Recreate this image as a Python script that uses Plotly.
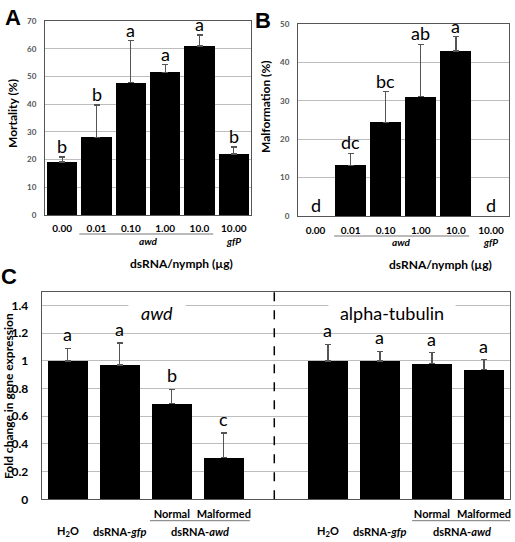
import plotly.graph_objects as go

W, H = 515, 542

# ---------------- data ----------------
a_labels = ["0.00", "0.01", "0.10", "1.00", "10.0", "10.00"]
a_mortality = [19.1, 28.0, 47.8, 51.5, 61.0, 22.0]
a_err = [1.8, 11.7, 15.1, 2.7, 4.0, 2.5]
a_letters = ["b", "b", "a", "a", "a", "b"]

b_labels = ["0.00", "0.01", "0.10", "1.00", "10.0", "10.00"]
b_malformation = [0.0, 13.2, 24.4, 31.1, 43.0, 0.0]
b_err = [0.0, 3.1, 8.0, 13.6, 3.7, 0.0]
b_letters = ["d", "dc", "bc", "ab", "a", "d"]

c_groups = ["H<sub>2</sub>O", "dsRNA-<i>gfp</i>", "Normal", "Malformed"]
c_awd = [1.0, 0.97, 0.69, 0.30]
c_awd_err = [0.09, 0.16, 0.105, 0.18]
c_awd_letters = ["a", "a", "b", "c"]
c_tub = [1.0, 1.0, 0.98, 0.937]
c_tub_err = [0.12, 0.07, 0.08, 0.072]
c_tub_letters = ["a", "a", "a", "a"]

a_ticks = [0, 10, 20, 30, 40, 50, 60, 70]
b_ticks = [0, 10, 20, 30, 40, 50]
c_ticks = [0, 0.2, 0.4, 0.6, 0.8, 1, 1.2, 1.4]

FONT = "Lato"
GRID = "#bdbdbd"
BORDER = "#555555"
ERRC = "#555555"


def py(px):
    return 1 - px / H


def pxx(px):
    return px / W


fig = go.Figure()

pos_ab = list(range(6))
fig.add_trace(go.Bar(
    x=pos_ab, y=a_mortality, width=0.875, marker=dict(color="black", line=dict(width=0)),
    error_y=dict(type="data", symmetric=False, array=a_err, arrayminus=[0] * 6,
                 color=ERRC, thickness=1.3, width=3),
    xaxis="x", yaxis="y", showlegend=False))

# zero-height bars are invisible: draw only the non-zero ones (with their error bars)
b_idx = [i for i, v in enumerate(b_malformation) if v > 0]
fig.add_trace(go.Bar(
    x=[pos_ab[i] for i in b_idx], y=[b_malformation[i] for i in b_idx], width=0.88,
    marker=dict(color="black", line=dict(width=0)),
    error_y=dict(type="data", symmetric=False, array=[b_err[i] for i in b_idx],
                 arrayminus=[0] * len(b_idx), color=ERRC, thickness=1.3, width=3),
    xaxis="x2", yaxis="y2", showlegend=False))

pos_c1 = [0, 1, 2, 3]
pos_c2 = [5, 6, 7, 8]
fig.add_trace(go.Bar(
    x=pos_c1, y=c_awd, width=0.77, marker=dict(color="black", line=dict(width=0)),
    error_y=dict(type="data", symmetric=False, array=c_awd_err, arrayminus=[0] * 4,
                 color=ERRC, thickness=1.3, width=3),
    xaxis="x3", yaxis="y3", showlegend=False))
fig.add_trace(go.Bar(
    x=pos_c2, y=c_tub, width=0.77, marker=dict(color="black", line=dict(width=0)),
    error_y=dict(type="data", symmetric=False, array=c_tub_err, arrayminus=[0] * 4,
                 color=ERRC, thickness=1.3, width=3),
    xaxis="x3", yaxis="y3", showlegend=False))

axis_common = dict(showline=True, mirror=True, linecolor=BORDER, linewidth=1,
                   zeroline=False, ticks="", automargin=False)

fig.update_layout(
    width=W, height=H, margin=dict(l=0, r=0, t=0, b=0, autoexpand=False),
    paper_bgcolor="white", plot_bgcolor="white",
    font=dict(family=FONT, color="black"),
    xaxis=dict(domain=[pxx(45), pxx(251)], range=[-0.5, 5.5], anchor="y",
               tickvals=pos_ab, ticktext=a_labels, showgrid=False,
               tickfont=dict(size=10, family=FONT, weight="bold"), ticklabelstandoff=4,
               **axis_common),
    yaxis=dict(domain=[py(215), py(21)], range=[0, 70], anchor="x",
               tickvals=a_ticks, showgrid=True, gridcolor=GRID, gridwidth=1,
               tickfont=dict(size=8, color="#555555", family=FONT, weight="bold"),
               ticklabelstandoff=6, **axis_common),
    xaxis2=dict(domain=[pxx(298), pxx(508.5)], range=[-0.5, 5.5], anchor="y2",
                tickvals=pos_ab, ticktext=b_labels, showgrid=False,
                tickfont=dict(size=10, family=FONT, weight="bold"), ticklabelstandoff=5,
                **axis_common),
    yaxis2=dict(domain=[py(216), py(24)], range=[0, 50], anchor="x2",
                tickvals=b_ticks, showgrid=True, gridcolor=GRID, gridwidth=1,
                tickfont=dict(size=8, color="#555555", family=FONT, weight="bold"),
                ticklabelstandoff=6, **axis_common),
    xaxis3=dict(domain=[pxx(41.7), pxx(510)], range=[-0.5, 8.5], anchor="y3",
                tickvals=[2, 3, 7, 8], ticktext=["Normal", "Malformed", "Normal", "Malformed"],
                showgrid=False, tickfont=dict(size=11, family=FONT, weight="bold"),
                ticklabelstandoff=4, **axis_common),
    yaxis3=dict(domain=[py(499.3), py(291.7)], range=[0, 1.5], anchor="x3",
                tickvals=c_ticks, ticktext=[f"{v:g}" for v in c_ticks],
                showgrid=True, gridcolor=GRID, gridwidth=1,
                tickfont=dict(size=12, family=FONT, weight="bold"),
                ticklabelstandoff=10, **axis_common),
    bargap=0,
)

ann = []
shapes = []


def add_ann(**kw):
    kw.setdefault("showarrow", False)
    kw.setdefault("xanchor", "center")
    kw.setdefault("yanchor", "middle")
    ann.append(kw)


# significance letters
for i, (v, e, t) in enumerate(zip(a_mortality, a_err, a_letters)):
    add_ann(x=i, y=v + e, xref="x", yref="y", text=t,
            yanchor="bottom", yshift=-2, font=dict(size=18, family=FONT))
for i, (v, e, t) in enumerate(zip(b_malformation, b_err, b_letters)):
    add_ann(x=i, y=v + e, xref="x2", yref="y2", text=t,
            yanchor="bottom", yshift=-2, font=dict(size=18, family=FONT))
for p, v, e, t in zip(pos_c1, c_awd, c_awd_err, c_awd_letters):
    add_ann(x=p, y=v + e, xref="x3", yref="y3", text=t,
            yanchor="bottom", yshift=1, font=dict(size=18, family=FONT))
for p, v, e, t in zip(pos_c2, c_tub, c_tub_err, c_tub_letters):
    add_ann(x=p, y=v + e, xref="x3", yref="y3", text=t,
            yanchor="bottom", yshift=1, font=dict(size=18, family=FONT))

# gene titles in panel C
add_ann(x=1.71, y=1.344, xref="x3", yref="y3", text="<i>awd</i>",
        bgcolor="white", width=54, height=24, font=dict(size=18, family=FONT))
add_ann(x=6.23, y=1.344, xref="x3", yref="y3", text="alpha-tubulin",
        bgcolor="white", width=124, height=24, font=dict(size=18, family=FONT))

# group labels A / B
for xr, lx0, lx1, awdx, ly, gy, dx, dy in [("x", 0.5, 4.4, 2.5, 234, 241, 3.49, 263),
                                            ("x2", 0.53, 4.38, 2.45, 236, 242, 3.55, 265)]:
    shapes.append(dict(type="line", xref=xr, yref="paper", x0=lx0, x1=lx1,
                       y0=py(ly), y1=py(ly), line=dict(color="#777777", width=1)))
    add_ann(x=awdx, y=py(gy), xref=xr, yref="paper", text="<i>awd</i>",
            font=dict(size=10, family=FONT, weight="bold"))
    add_ann(x=5, y=py(gy), xref=xr, yref="paper", text="<i>gfP</i>",
            font=dict(size=10, family=FONT, weight="bold"))
    add_ann(x=dx, y=py(dy), xref=xr, yref="paper", text="dsRNA/nymph (µg)",
            font=dict(size=12, family=FONT, weight="bold"))

# axis titles
add_ann(x=pxx(12), y=py(114), xref="paper", yref="paper", text="Mortality (%)",
        textangle=-90, font=dict(size=12, family=FONT, weight="bold"))
add_ann(x=pxx(265), y=py(107), xref="paper", yref="paper", text="Malformation (%)",
        textangle=-90, font=dict(size=12, family=FONT, weight="bold"))
add_ann(x=pxx(8), y=py(396), xref="paper", yref="paper",
        text="Fold change in gene expression",
        textangle=-90, font=dict(size=12, family=FONT, weight="bold"))

# panel letters
add_ann(x=pxx(12.5), y=py(17.5), xref="paper", yref="paper", text="A",
        font=dict(size=22, family="Liberation Sans", weight="bold"))
add_ann(x=pxx(262.5), y=py(20.5), xref="paper", yref="paper", text="B",
        font=dict(size=22, family="Liberation Sans", weight="bold"))
add_ann(x=pxx(9), y=py(276), xref="paper", yref="paper", text="C",
        font=dict(size=22, family="Liberation Sans", weight="bold"))

# panel C x group labels
for p, t in zip([0, 1, 5, 6], [c_groups[0], c_groups[1], c_groups[0], c_groups[1]]):
    add_ann(x=p, y=py(531.7), xref="x3", yref="paper", text=t,
            font=dict(size=11, family=FONT, weight="bold"))
for cx, lx0, lx1 in [(2.54, 1.58, 3.5), (7.57, 6.62, 8.55)]:
    add_ann(x=cx, y=py(531.7), xref="x3", yref="paper", text="dsRNA-<i>awd</i>",
            font=dict(size=11, family=FONT, weight="bold"))
    shapes.append(dict(type="line", xref="x3", yref="paper", x0=lx0, x1=lx1,
                       y0=py(520.7), y1=py(520.7), line=dict(color="#777777", width=1)))

# dashed separator
shapes.append(dict(type="line", xref="x3", yref="y3", x0=3.97, x1=3.97, y0=0, y1=1.5,
                   line=dict(color="black", width=1.5, dash="dash")))

fig.update_layout(annotations=ann, shapes=shapes)
fig.write_html("out.html")
